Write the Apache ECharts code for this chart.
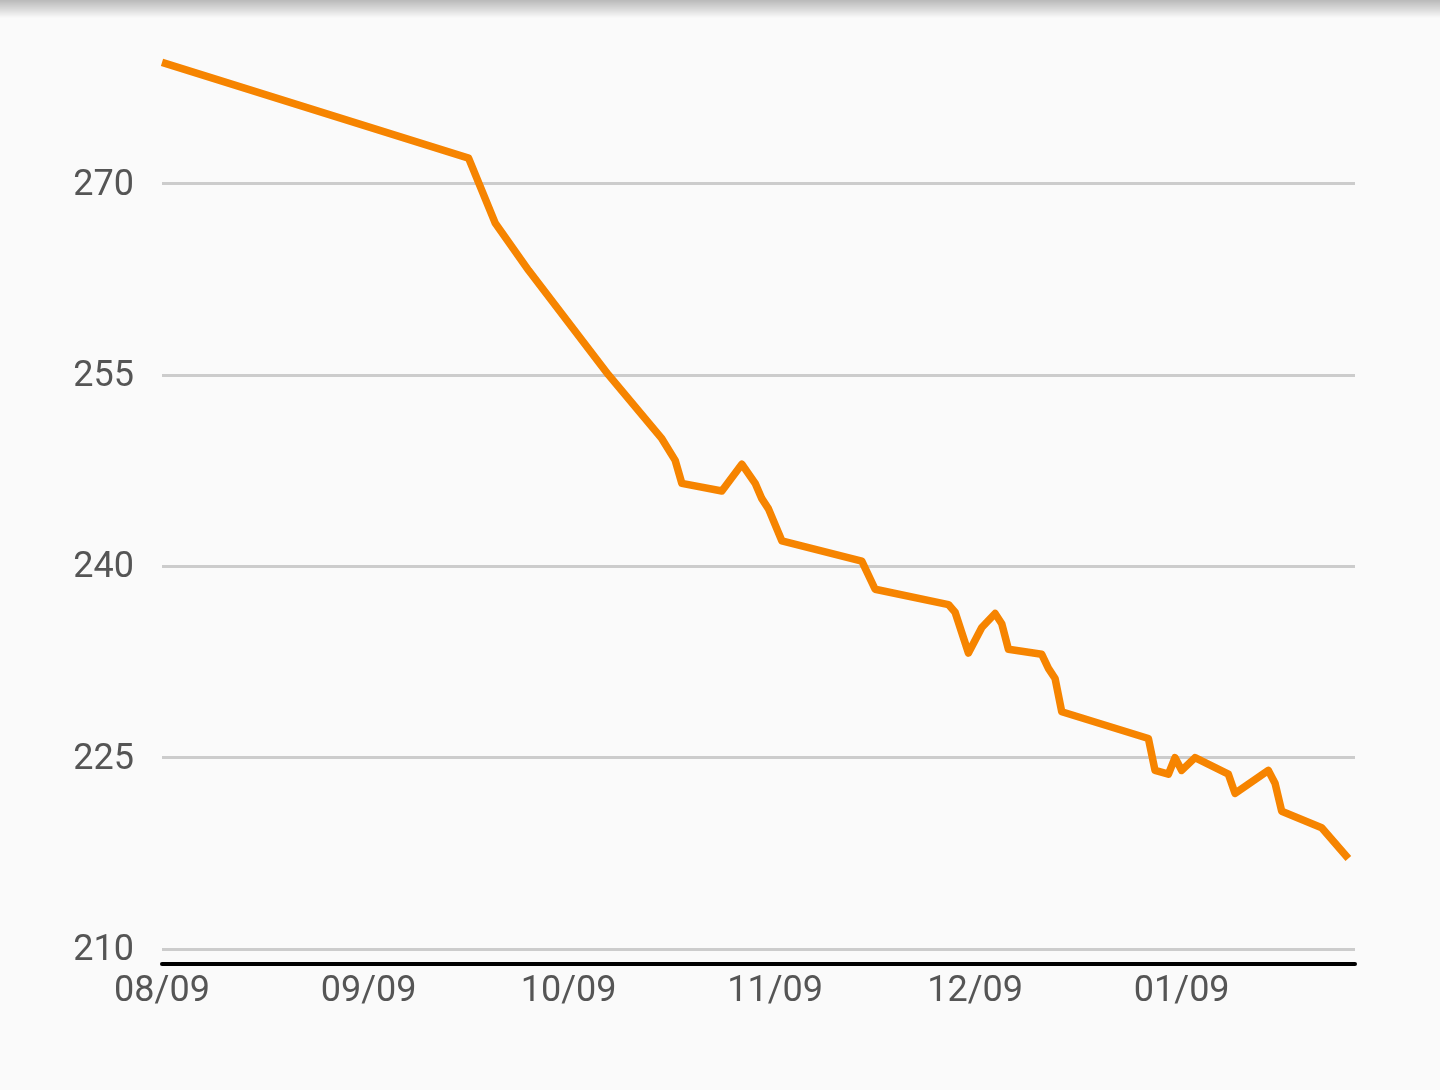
<!DOCTYPE html>
<html>
<head>
<meta charset="utf-8">
<script src="https://cdn.jsdelivr.net/npm/echarts@6/dist/echarts.min.js"></script>
<style>
  html, body { margin: 0; padding: 0; background: #fafafa; }
  #chart { width: 1440px; height: 1090px; }
  #shade { position: absolute; left: 0; top: 0; width: 1440px; height: 18px;
           background: linear-gradient(to bottom, rgba(0,0,0,0.26), rgba(0,0,0,0)); pointer-events: none; }
</style>
</head>
<body>
<div id="chart"></div>
<div id="shade"></div>
<script>
const dates = [
  '2023-08-09', '2023-09-24', '2023-09-28', '2023-10-03', '2023-10-15',
  '2023-10-23', '2023-10-25', '2023-10-26', '2023-11-01', '2023-11-04', '2023-11-06',
  '2023-11-07', '2023-11-08', '2023-11-10', '2023-11-22', '2023-11-24', '2023-12-05',
  '2023-12-06', '2023-12-08', '2023-12-10', '2023-12-12', '2023-12-13', '2023-12-14',
  '2023-12-19', '2023-12-20', '2023-12-21', '2023-12-22', '2024-01-04', '2024-01-05',
  '2024-01-07', '2024-01-08', '2024-01-09', '2024-01-11', '2024-01-16', '2024-01-17',
  '2024-01-22', '2024-01-23', '2024-01-24', '2024-01-30', '2024-02-03'
];
const weights = [
  279.5, 272.0, 266.9, 263.2, 255.0,
  250.0, 248.3, 246.5, 245.9, 248.0, 246.5,
  245.3, 244.5, 242.0, 240.4, 238.2, 237.0,
  236.4, 233.2, 235.2, 236.3, 235.5, 233.5,
  233.1, 232.0, 231.2, 228.6, 226.5, 224.0,
  223.7, 225.0, 224.0, 225.0, 223.7, 222.2,
  224.0, 223.0, 220.8, 219.5, 217.1
];
const xTickDates = ['2023-08-09', '2023-09-09', '2023-10-09', '2023-11-09', '2023-12-09', '2024-01-09'];
const xRange = ['2023-08-09', '2024-02-04'];
const yTicks = [210, 225, 240, 255, 270];
const yRange = [210, 280];

function ts(s) {
  const p = s.split('-').map(Number);
  return Date.UTC(p[0], p[1] - 1, p[2]);
}
const pad = n => (n < 10 ? '0' : '') + n;

const chart = echarts.init(document.getElementById('chart'), null, { renderer: 'canvas' });
chart.setOption({
  animation: false,
  backgroundColor: '#fafafa',
  grid: { left: 162, right: 85, top: 56, bottom: 141, containLabel: false },
  xAxis: {
    type: 'value',
    min: ts(xRange[0]),
    max: ts(xRange[1]),
    offset: 15,
    axisLine: { show: true, lineStyle: { color: '#000', width: 4 } },
    axisTick: { show: false },
    splitLine: { show: false },
    axisLabel: {
      customValues: xTickDates.map(ts),
      color: '#555',
      fontFamily: 'Roboto',
      fontSize: 36,
      margin: 10,
      formatter: function (v) {
        const d = new Date(v);
        return pad(d.getUTCMonth() + 1) + '/' + pad(d.getUTCDate());
      }
    }
  },
  yAxis: {
    type: 'value',
    min: yRange[0],
    max: yRange[1],
    interval: 15,
    axisLine: { show: false },
    axisTick: { show: false },
    axisLabel: {
      customValues: yTicks,
      color: '#555',
      fontFamily: 'Roboto',
      fontSize: 36,
      margin: 28,
      verticalAlign: 'top',
      lineHeight: 4
    },
    splitLine: {
      show: true,
      showMaxLine: false,
      lineStyle: { color: '#cccccc', width: 3 }
    }
  },
  series: [{
    type: 'line',
    data: dates.map((d, i) => [ts(d), weights[i]]),
    showSymbol: false,
    symbol: 'none',
    lineStyle: { color: '#f68400', width: 7.5, join: 'round', cap: 'butt' },
    clip: false
  }]
});
</script>
</body>
</html>
